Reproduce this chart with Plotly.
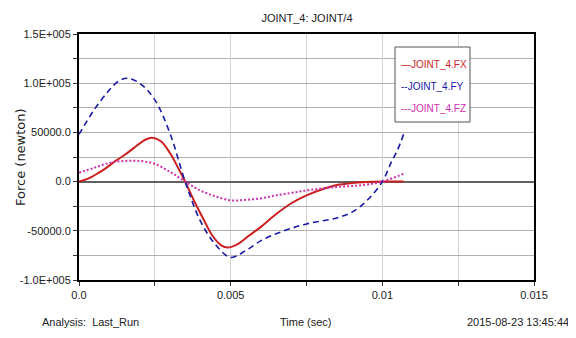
import plotly.graph_objects as go

# ---- data ----
t_fx = [0, 0.0003, 0.0006, 0.0009, 0.0012, 0.0015, 0.0018, 0.0021, 0.0024, 0.0027,
        0.003, 0.0033, 0.0035, 0.0038, 0.0041, 0.0044, 0.0047, 0.0049, 0.0052, 0.0056,
        0.006, 0.0065, 0.007, 0.0075, 0.008, 0.0085, 0.009, 0.0095, 0.01, 0.0107]
fx = [0, 3000, 8000, 14000, 21000, 27000, 34000, 41000, 44500, 41000,
      29000, 12000, 0, -20000, -38000, -55000, -65000, -67000, -64000, -55000,
      -46000, -33000, -22000, -14000, -8000, -3500, -1500, -500, 0, 0]

t_fy = [0, 0.0005, 0.001, 0.0013, 0.0016, 0.002, 0.0025, 0.003, 0.0035, 0.004,
        0.0045, 0.005, 0.0055, 0.006, 0.0065, 0.007, 0.0075, 0.008, 0.0085, 0.009,
        0.0095, 0.01, 0.0103, 0.0105, 0.0107]
fy = [48000, 73000, 93000, 102000, 105000, 100000, 83000, 49000, 0, -40000,
      -64000, -77000, -70000, -60000, -53000, -47500, -43000, -40000, -37000, -31000,
      -19000, 0, 20000, 32000, 48000]

t_fz = [0, 0.0005, 0.001, 0.0015, 0.002, 0.0025, 0.003, 0.0035, 0.004, 0.0045,
        0.005, 0.0055, 0.006, 0.0065, 0.007, 0.0075, 0.008, 0.0085, 0.009, 0.0095,
        0.01, 0.0107]
fz = [9000, 14000, 19000, 21000, 21000, 18000, 10000, 0, -9000, -15000,
      -19000, -18500, -17000, -14000, -11500, -9000, -7000, -5500, -4500, -3000,
      0, 8000]

series_names = ["JOINT_4.FX", "JOINT_4.FY", "JOINT_4.FZ"]
legend_marks = ["\u2014", "--", "---"]

y_tickvals = [-100000, -50000, 0, 50000, 100000, 150000]
y_ticktext = ["-1.0E+005", "-50000.0", "0.0", "50000.0", "1.0E+005", "1.5E+005"]
x_tickvals = [0, 0.005, 0.01, 0.015]
x_ticktext = ["0.0", "0.005", "0.01", "0.015"]

COLORS = ["#cc1f1f", "#1a1aa8", "#cc2fae"]
FONT = "Liberation Sans, Arial, sans-serif"
TXT = "#222222"

# plot area in page pixels (page has an 8px body margin): x 79..534, y 34..280
PX0, PX1, PY0, PY1 = 79, 534, 34, 280


def px(x):
    return (x - PX0) / (PX1 - PX0)


def py(y):
    return (PY1 - y) / (PY1 - PY0)


fig = go.Figure()
fig.add_trace(go.Scatter(x=t_fx, y=fx, mode="lines", line_shape="spline",
                         name=series_names[0], showlegend=False,
                         line=dict(color=COLORS[0], width=2)))
fig.add_trace(go.Scatter(x=t_fy, y=fy, mode="lines", line_shape="spline",
                         name=series_names[1], showlegend=False,
                         line=dict(color=COLORS[1], width=1.6, dash="6px,4px")))
fig.add_trace(go.Scatter(x=t_fz, y=fz, mode="lines", line_shape="spline",
                         name=series_names[2], showlegend=False,
                         line=dict(color=COLORS[2], width=2, dash="2px,2px")))

fig.update_layout(
    width=568, height=322,
    margin=dict(l=71, r=42, t=26, b=50),
    paper_bgcolor="white", plot_bgcolor="white",
    font=dict(family=FONT, size=11, color=TXT),
    title=dict(text="JOINT_4: JOINT/4", x=(307 - 8) / 568, xanchor="center",
               y=1 - 10 / 322, yanchor="middle", yref="container",
               font=dict(family=FONT, size=11, color=TXT)),
    showlegend=False,
)

fig.update_xaxes(range=[0, 0.015], tickvals=x_tickvals, ticktext=x_ticktext,
                 showgrid=True, gridcolor="#d4d4d4", gridwidth=1,
                 ticks="outside", ticklen=4, tickcolor="#333333",
                 minor=dict(dtick=0.0025, tick0=0, showgrid=True, gridcolor="#d4d4d4",
                            ticks="outside", ticklen=4, tickcolor="#333333"),
                 showline=True, linecolor="black", linewidth=2, mirror=True,
                 zeroline=False, tickfont=dict(family=FONT, size=11, color=TXT))
fig.update_yaxes(range=[-100000, 150000], tickvals=y_tickvals, ticktext=y_ticktext,
                 showgrid=True, gridcolor="#b0b0b0", gridwidth=1,
                 ticks="outside", ticklen=4, tickcolor="#333333",
                 minor=dict(dtick=25000, tick0=0, showgrid=True, gridcolor="#b0b0b0",
                            ticks="outside", ticklen=4, tickcolor="#333333"),
                 showline=True, linecolor="black", linewidth=2, mirror=True,
                 zeroline=True, zerolinecolor="#606060", zerolinewidth=1.5,
                 tickfont=dict(family=FONT, size=11, color=TXT))

# axis title and footer texts
fig.add_annotation(text="Force (newton)", textangle=-90, xref="paper", yref="paper",
                   x=px(20), y=0.5, xanchor="center", yanchor="middle",
                   showarrow=False, font=dict(family="DejaVu Sans", size=13, color=TXT))
fig.add_annotation(text="Analysis:  Last_Run", xref="paper", yref="paper",
                   x=px(40), y=py(322), xanchor="left", yanchor="middle",
                   showarrow=False, font=dict(family=FONT, size=11, color=TXT))
fig.add_annotation(text="Time (sec)", xref="paper", yref="paper",
                   x=px(306), y=py(322), xanchor="center", yanchor="middle",
                   showarrow=False, font=dict(family=FONT, size=11, color=TXT))
fig.add_annotation(text="2015-08-23 13:45:44", xref="paper", yref="paper",
                   x=px(571), y=py(322), xanchor="right", yanchor="middle",
                   showarrow=False, font=dict(family=FONT, size=11, color=TXT))

# legend box (drawn like the reference: text symbols in series colours)
fig.add_shape(type="rect", xref="paper", yref="paper",
              x0=px(395), x1=px(470), y0=py(122), y1=py(47),
              fillcolor="white", line=dict(color="#555555", width=1), layer="above")
for i, (mark, name, col) in enumerate(zip(legend_marks, series_names, COLORS)):
    fig.add_annotation(text=mark + name, xref="paper", yref="paper",
                       x=px(399), y=py(65 + 21.5 * i), xanchor="left", yanchor="middle",
                       showarrow=False, font=dict(family=FONT, size=10, color=col))

fig.write_html("out.html")
